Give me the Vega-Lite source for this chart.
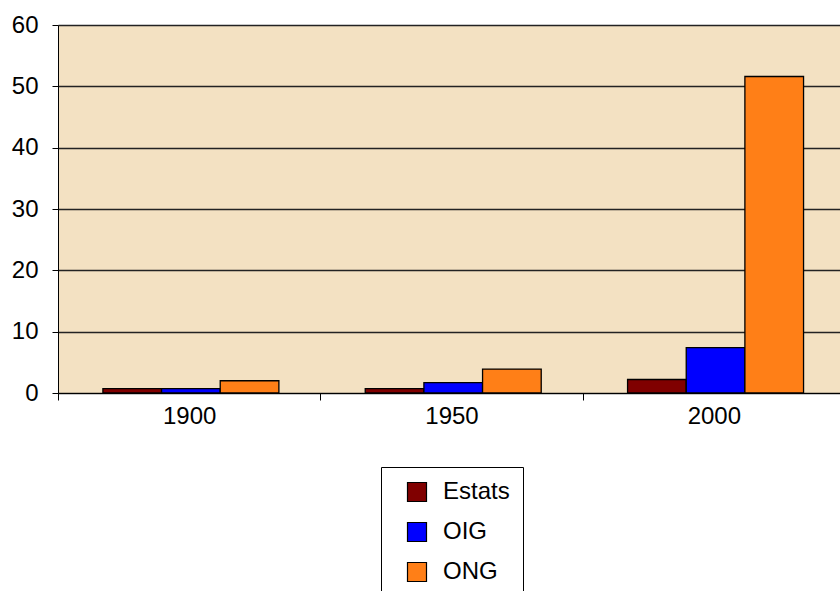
{
  "$schema": "https://vega.github.io/schema/vega-lite/v6.json",
  "autosize": {"type": "none"},
  "padding": {"left": 58, "top": 25, "right": 0, "bottom": 198},
  "width": 787,
  "height": 368,
  "background": "white",
  "config": {
    "view": {"fill": "#F3E1C2", "stroke": null},
    "font": "Liberation Sans"
  },
  "data": {
    "values": [
      {"year": "1900", "series": "Estats", "value": 0.7},
      {"year": "1900", "series": "OIG", "value": 0.7},
      {"year": "1900", "series": "ONG", "value": 2.0},
      {"year": "1950", "series": "Estats", "value": 0.7},
      {"year": "1950", "series": "OIG", "value": 1.7},
      {"year": "1950", "series": "ONG", "value": 3.9},
      {"year": "2000", "series": "Estats", "value": 2.2},
      {"year": "2000", "series": "OIG", "value": 7.4},
      {"year": "2000", "series": "ONG", "value": 51.6}
    ]
  },
  "mark": {"type": "bar", "stroke": "black", "strokeWidth": 1.3},
  "encoding": {
    "x": {
      "field": "year",
      "type": "nominal",
      "scale": {"paddingInner": 0, "paddingOuter": 0},
      "axis": {
        "title": null,
        "labelAngle": 0,
        "tickBand": "extent",
        "labelFontSize": 24,
        "labelColor": "black",
        "tickColor": "black",
        "tickSize": 7,
        "domainColor": "black",
        "labelPadding": 4
      }
    },
    "xOffset": {
      "field": "series",
      "type": "nominal",
      "sort": ["Estats", "OIG", "ONG"],
      "scale": {"paddingInner": 0, "paddingOuter": 0.736, "align": 0.52}
    },
    "y": {
      "field": "value",
      "type": "quantitative",
      "scale": {"domain": [0, 60]},
      "axis": {
        "title": null,
        "values": [0, 10, 20, 30, 40, 50, 60],
        "gridColor": "#222222",
        "gridWidth": 1.5,
        "labelFontSize": 24,
        "labelColor": "black",
        "tickColor": "black",
        "tickSize": 6,
        "domainColor": "black",
        "labelPadding": 14
      }
    },
    "color": {
      "field": "series",
      "type": "nominal",
      "sort": ["Estats", "OIG", "ONG"],
      "scale": {"domain": ["Estats", "OIG", "ONG"], "range": ["#800000", "#0000FF", "#FF7F17"]},
      "legend": {
        "orient": "none",
        "legendX": 323,
        "legendY": 442,
        "direction": "vertical",
        "title": null,
        "strokeColor": "black",
        "symbolType": "square",
        "symbolSize": 361,
        "symbolStrokeColor": "black",
        "symbolStrokeWidth": 1.2,
        "symbolOpacity": 1,
        "labelFontSize": 24,
        "labelColor": "black",
        "labelOffset": 14,
        "rowPadding": 16,
        "padding": 13,
        "symbolOffset": 11
      }
    }
  }
}
